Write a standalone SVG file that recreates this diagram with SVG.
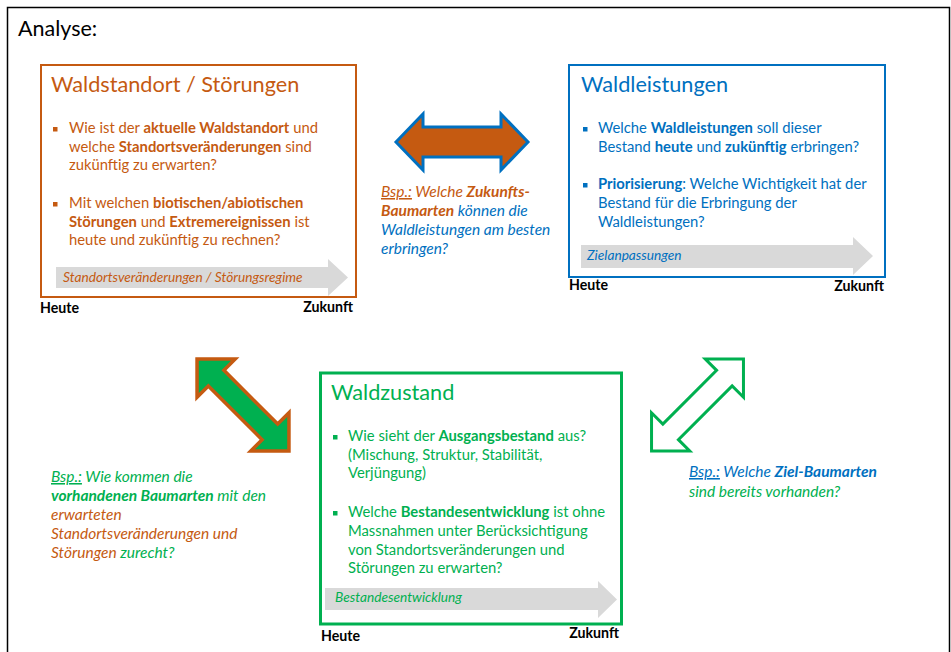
<svg xmlns="http://www.w3.org/2000/svg" width="951" height="652" viewBox="0 0 951 652">
<style>
text{font-family:Lato,"Liberation Sans",sans-serif}
.o{fill:#C55A11}.b{fill:#0070C0}.g{fill:#00B050}.k{fill:#000}
.t{font-size:21.7px}
.bd{font-size:14.8px}
.lbl{font-size:15.5px;font-style:italic}
.ar{font-size:13.7px;font-style:italic}
.hz{font-size:14.2px;font-weight:700;fill:#000}
.B{font-weight:700}
.u{text-decoration:underline}
.gray{fill:#D9D9D9}
</style>
<defs>
<path id="dbl" d="M-65,0 L-38,-27 L-38,-11 L38,-11 L38,-27 L65,0 L38,27 L38,11 L-38,11 L-38,27 Z"/>
</defs>
<rect x="7.5" y="7.5" width="942" height="660" fill="#fff" stroke="#000" stroke-width="1.5"/>
<text x="18" y="36" style="font-size:21.5px" class="k">Analyse:</text>

<g id="node-waldstandort">
<rect x="41" y="65" width="315" height="232" fill="#fff" stroke="#C55A11" stroke-width="2"/>
<text x="51" y="92" class="t o">Waldstandort / Störungen</text>
<rect x="53" y="127" width="4.5" height="4.5" class="o"/>
<text class="bd o"><tspan x="69" y="133">Wie ist der <tspan class="B">aktuelle Waldstandort</tspan> und</tspan><tspan x="69" y="152">welche <tspan class="B">Standortsveränderungen</tspan> sind</tspan><tspan x="69" y="170">zukünftig zu erwarten?</tspan></text>
<rect x="53" y="202" width="4.5" height="4.5" class="o"/>
<text class="bd o"><tspan x="69" y="208">Mit welchen <tspan class="B">biotischen/abiotischen</tspan></tspan><tspan x="69" y="227"><tspan class="B">Störungen</tspan> und <tspan class="B">Extremereignissen</tspan> ist</tspan><tspan x="69" y="245">heute und zukünftig zu rechnen?</tspan></text>
<path class="gray" d="M56,267 L328,267 L328,259 L348,277.5 L328,296 L328,288 L56,288 Z"/>
<text x="63" y="282" class="ar o">Standortsveränderungen / Störungsregime</text>
<text x="40" y="313" class="hz">Heute</text>
<text x="353" y="312" class="hz" text-anchor="end">Zukunft</text>
</g>

<g id="node-waldleistungen">
<rect x="569" y="65" width="316" height="212" fill="#fff" stroke="#0070C0" stroke-width="2"/>
<text x="581" y="92" class="t b">Waldleistungen</text>
<rect x="583" y="127" width="4.5" height="4.5" class="b"/>
<text class="bd b"><tspan x="598" y="133">Welche <tspan class="B">Waldleistungen</tspan> soll dieser</tspan><tspan x="598" y="152">Bestand <tspan class="B">heute</tspan> und <tspan class="B">zukünftig</tspan> erbringen?</tspan></text>
<rect x="583" y="183" width="4.5" height="4.5" class="b"/>
<text class="bd b"><tspan x="598" y="189"><tspan class="B">Priorisierung</tspan>: Welche Wichtigkeit hat der</tspan><tspan x="598" y="208">Bestand für die Erbringung der</tspan><tspan x="598" y="227">Waldleistungen?</tspan></text>
<path class="gray" d="M581,245 L853,245 L853,237 L873,256 L853,275 L853,268 L581,268 Z"/>
<text x="587" y="260" class="ar b">Zielanpassungen</text>
<text x="569" y="290" class="hz">Heute</text>
<text x="884" y="291" class="hz" text-anchor="end">Zukunft</text>
</g>

<g id="node-waldzustand">
<rect x="320.5" y="373" width="301" height="251" fill="#fff" stroke="#00B050" stroke-width="3"/>
<text x="331" y="400" class="t g">Waldzustand</text>
<rect x="333" y="435" width="4.5" height="4.5" class="g"/>
<text class="bd g"><tspan x="348" y="441">Wie sieht der <tspan class="B">Ausgangsbestand</tspan> aus?</tspan><tspan x="348" y="460">(Mischung, Struktur, Stabilität,</tspan><tspan x="348" y="478">Verjüngung)</tspan></text>
<rect x="333" y="511" width="4.5" height="4.5" class="g"/>
<text class="bd g"><tspan x="348" y="517">Welche <tspan class="B">Bestandesentwicklung</tspan> ist ohne</tspan><tspan x="348" y="536">Massnahmen unter Berücksichtigung</tspan><tspan x="348" y="555">von Standortsveränderungen und</tspan><tspan x="348" y="573">Störungen zu erwarten?</tspan></text>
<path class="gray" d="M325,588 L598,588 L598,581 L617,599.5 L598,618 L598,610 L325,610 Z"/>
<text x="335" y="602" class="ar g">Bestandesentwicklung</text>
<text x="321" y="641" class="hz">Heute</text>
<text x="619" y="638" class="hz" text-anchor="end">Zukunft</text>
</g>

<g id="connectors">
<path d="M396,142 L423,114 L423,127 L501,127 L501,114 L528,142 L501,170 L501,157 L423,157 L423,170 Z" fill="#C55A11" stroke="#0070C0" stroke-width="3"/>
<use href="#dbl" transform="translate(243,405) rotate(45)" fill="#00B050" stroke="#C55A11" stroke-width="3.5"/>
<use href="#dbl" transform="translate(697.5,405) rotate(-45)" fill="#fff" stroke="#00B050" stroke-width="3"/>
<text class="lbl"><tspan x="381" y="197"><tspan class="o u">Bsp.:</tspan><tspan class="o"> Welche </tspan><tspan class="o B">Zukunfts-</tspan></tspan><tspan x="381" y="216"><tspan class="o B">Baumarten</tspan><tspan class="b"> können die</tspan></tspan><tspan x="381" y="235" class="b">Waldleistungen am besten</tspan><tspan x="381" y="254" class="b">erbringen?</tspan></text>
<text class="lbl"><tspan x="51" y="482"><tspan class="g u">Bsp.:</tspan><tspan class="g"> Wie kommen die</tspan></tspan><tspan x="51" y="501"><tspan class="g B">vorhandenen Baumarten</tspan><tspan class="g"> mit den</tspan></tspan><tspan x="51" y="520" class="o">erwarteten</tspan><tspan x="51" y="539" class="o">Standortsveränderungen und</tspan><tspan x="51" y="558"><tspan class="o">Störungen</tspan><tspan class="g"> zurecht?</tspan></tspan></text>
<text class="lbl"><tspan x="689" y="477"><tspan class="b u">Bsp.:</tspan><tspan class="b"> Welche </tspan><tspan class="b B">Ziel-Baumarten</tspan></tspan><tspan x="689" y="497" class="g">sind bereits vorhanden?</tspan></text>
</g>
</svg>
